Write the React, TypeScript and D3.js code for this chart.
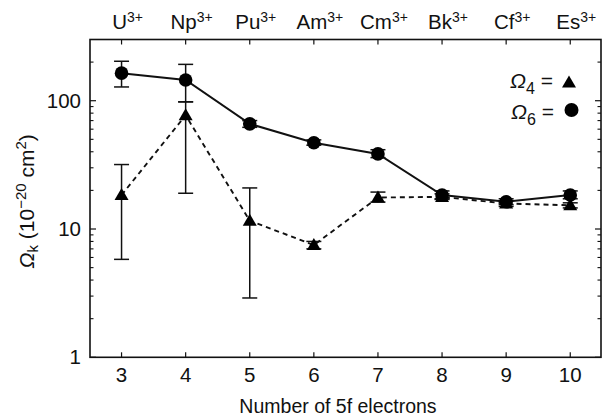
import React from "react";
import * as d3 from "d3";

const electrons = [3, 4, 5, 6, 7, 8, 9, 10];
const ions = ["U", "Np", "Pu", "Am", "Cm", "Bk", "Cf", "Es"];
const omega6 = [164, 145, 66, 47, 38.5, 18.4, 16.3, 18.4];
const omega6Lo = [128, 98, 62, 45, 36, 17.2, 15.5, 17.2];
const omega6Hi = [203, 192, 70, 49.5, 41.5, 19.8, 17.2, 19.8];
const omega4 = [18.4, 77, 11.6, 7.5, 17.6, 17.8, 15.8, 15.3];
const omega4Lo = [5.8, 19, 2.9, 7.0, 16.2, 17.0, 15.0, 14.6];
const omega4Hi = [31.8, 98, 20.9, 8.0, 19.4, 18.8, 16.6, 16.0];
const yTicks = [1, 10, 100];

const W = 602;
const H = 420;
const left = 90;
const right = 601;
const top = 39.5;
const bottom = 357.3;
const font = "'Liberation Sans', Arial, Helvetica, sans-serif";

export default function App() {
  const x = d3.scaleLinear().domain([2.5, 10.5]).range([left - 0.5, right + 1.3]);
  const y = d3.scaleLog().domain([1, 300]).range([bottom, top]);

  const minor: number[] = [];
  [1, 10, 100].forEach((d) => {
    for (let k = 2; k <= 9; k++) {
      const v = d * k;
      if (v < 300) minor.push(v);
    }
  });

  const line6 = d3
    .line<number>()
    .x((_, i) => x(electrons[i]))
    .y((d) => y(d));
  const line4 = d3
    .line<number>()
    .x((_, i) => x(electrons[i]))
    .y((d) => y(d));

  const tri = (cx: number, cy: number, s = 7) =>
    `M${cx},${cy - s}L${cx + s},${cy + s * 0.72}L${cx - s},${cy + s * 0.72}Z`;

  const ink = "#111";
  const capW = 7.5;

  const errBar = (xi: number, lo: number, hi: number, key: string) => {
    const cx = x(xi);
    return (
      <g key={key} stroke={ink} strokeWidth={1.5}>
        <line x1={cx} x2={cx} y1={y(lo)} y2={y(hi)} />
        <line x1={cx - capW} x2={cx + capW} y1={y(lo)} y2={y(lo)} />
        <line x1={cx - capW} x2={cx + capW} y1={y(hi)} y2={y(hi)} />
      </g>
    );
  };

  return (
    <svg
      width={W}
      height={H}
      style={{ position: "absolute", left: 0, top: 0, background: "#fff" }}
      fontFamily={font}
    >
      <rect x={0} y={0} width={W} height={H} fill="#fff" />
      {/* frame */}
      <rect
        x={left}
        y={top}
        width={right - left}
        height={bottom - top}
        fill="none"
        stroke={ink}
        strokeWidth={1.6}
      />
      {/* x ticks bottom & top */}
      {electrons.map((e) => (
        <g key={"xt" + e} stroke={ink} strokeWidth={1.2}>
          <line x1={x(e)} x2={x(e)} y1={bottom} y2={bottom - 5} />
          <line x1={x(e)} x2={x(e)} y1={top} y2={top + 5} />
        </g>
      ))}
      {electrons.map((e) => (
        <text
          key={"xl" + e}
          x={x(e)}
          y={382}
          fontSize={20.5}
          textAnchor="middle"
          fill={ink}
        >
          {e}
        </text>
      ))}
      {ions.map((ion, i) => (
        <text key={"ion" + ion} x={x(electrons[i]) + 6} y={29} fontSize={20.5} textAnchor="middle" fill={ink}>
          {ion}
          <tspan fontSize={14} dy={-7}>
            3+
          </tspan>
        </text>
      ))}
      {/* y ticks */}
      {yTicks.map((t) => (
        <g key={"yt" + t} stroke={ink} strokeWidth={1.2}>
          <line x1={left} x2={left + 6} y1={y(t)} y2={y(t)} />
          <line x1={right} x2={right - 6} y1={y(t)} y2={y(t)} />
        </g>
      ))}
      {minor.map((t) => (
        <g key={"ym" + t} stroke={ink} strokeWidth={1.1}>
          <line x1={left} x2={left + 3.5} y1={y(t)} y2={y(t)} />
          <line x1={right} x2={right - 3.5} y1={y(t)} y2={y(t)} />
        </g>
      ))}
      {yTicks.map((t) => (
        <text
          key={"yl" + t}
          x={81}
          y={y(t) + 7}
          fontSize={20.5}
          textAnchor="end"
          fill={ink}
        >
          {t}
        </text>
      ))}
      {/* axis titles */}
      <text x={338} y={413} fontSize={19.5} textAnchor="middle" fill={ink}>
        Number of 5f electrons
      </text>
      <text
        transform={`translate(34,${(top + bottom) / 2 + 3}) rotate(-90)`}
        fontSize={21}
        textAnchor="middle"
        fill={ink}
      >
        <tspan fontStyle="italic">Ω</tspan>
        <tspan fontSize={15} dy={4}>
          k
        </tspan>
        <tspan dy={-4}> (10</tspan>
        <tspan fontSize={15} dy={-8}>
          −20
        </tspan>
        <tspan dy={8}> cm</tspan>
        <tspan fontSize={15} dy={-8}>
          2
        </tspan>
        <tspan dy={8}>)</tspan>
      </text>

      {/* lines */}
      <path
        d={line4(omega4) || ""}
        fill="none"
        stroke={ink}
        strokeWidth={1.9}
        strokeDasharray="5,4"
      />
      <path d={line6(omega6) || ""} fill="none" stroke={ink} strokeWidth={2} />

      {/* error bars */}
      {electrons.map((e, i) => errBar(e, omega4Lo[i], omega4Hi[i], "e4" + e))}
      {electrons.map((e, i) => errBar(e, omega6Lo[i], omega6Hi[i], "e6" + e))}

      {/* markers */}
      {electrons.map((e, i) => (
        <path key={"t" + e} d={tri(x(e), y(omega4[i]))} fill="#000" />
      ))}
      {electrons.map((e, i) => (
        <circle key={"c" + e} cx={x(e)} cy={y(omega6[i])} r={6.8} fill="#000" />
      ))}

      {/* legend */}
      <text x={510} y={88} fontSize={21} fill={ink}>
        <tspan fontStyle="italic">Ω</tspan>
        <tspan fontSize={16} dy={6}>
          4
        </tspan>
        <tspan dy={-6}> =</tspan>
      </text>
      <path d={tri(569, 82.5, 7)} fill="#000" />
      <text x={511} y={119} fontSize={21} fill={ink}>
        <tspan fontStyle="italic">Ω</tspan>
        <tspan fontSize={16} dy={6}>
          6
        </tspan>
        <tspan dy={-6}> =</tspan>
      </text>
      <circle cx={571.5} cy={110} r={7} fill="#000" />
    </svg>
  );
}
